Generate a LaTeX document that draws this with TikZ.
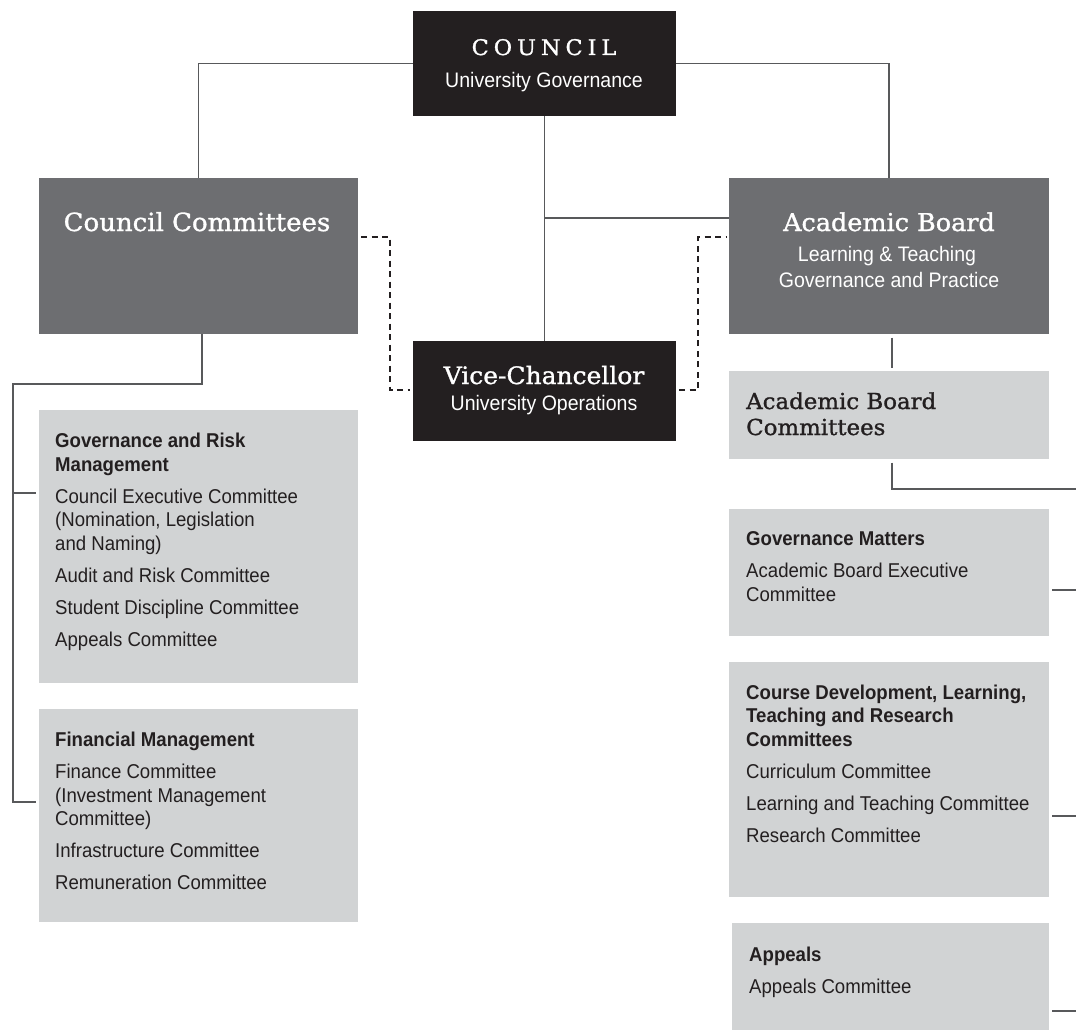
\documentclass[tikz,border=0pt]{standalone}
\usepackage{fontspec}
\setmainfont{DejaVu Serif}
\newfontfamily\slabfont[FakeBold=1.2, FakeStretch=1.04]{DejaVu Serif}
\newfontfamily\bodyfont[FakeStretch=0.93]{Liberation Sans}
\usetikzlibrary{calc}
\definecolor{boxdark}{HTML}{231F20}
\definecolor{boxmid}{HTML}{6D6E71}
\definecolor{boxlight}{HTML}{D1D3D4}
\definecolor{linegray}{HTML}{58595B}
\newcommand{\bodysize}{\bodyfont\fontsize{20}{23.5}\selectfont}
\newcommand{\subsize}{\bodyfont\fontsize{21}{24}\selectfont}
\newcommand{\itemgap}{\vskip8.5pt}
\newcommand{\listtext}[1]{\vtop{\hsize=310pt\parindent=0pt\parskip=0pt\bodysize #1}}
\tikzset{
  panel/.style={rectangle, inner sep=0pt, outer sep=0pt, anchor=north west},
  darkpanel/.style={panel, fill=boxdark},
  midpanel/.style={panel, fill=boxmid},
  lightpanel/.style={panel, fill=boxlight},
  conn/.style={draw=linegray, line width=1.1pt},
  dashconn/.style={draw=boxdark, line width=1.1pt, dash pattern=on 6pt off 4.5pt},
  title/.style={inner sep=0pt, anchor=base, text=white},
  listnode/.style={inner sep=0pt, anchor=base west, text=boxdark},
}
\begin{document}
\begin{tikzpicture}[x=1pt, y=-1pt]
\useasboundingbox (0,0) rectangle (1076,1033);

% boxes
\node[darkpanel, minimum width=263pt, minimum height=105pt] (council) at (413,11) {};
\node[midpanel, minimum width=319pt, minimum height=156pt] (cc) at (39,178) {};
\node[midpanel, minimum width=320pt, minimum height=156pt] (ab) at (729,178) {};
\node[darkpanel, minimum width=263pt, minimum height=100pt] (vc) at (413,341) {};
\node[lightpanel, minimum width=320pt, minimum height=88pt] (abc) at (729,371) {};
\node[lightpanel, minimum width=319pt, minimum height=273pt] (gr) at (39,410) {};
\node[lightpanel, minimum width=319pt, minimum height=213pt] (fm) at (39,709) {};
\node[lightpanel, minimum width=320pt, minimum height=127pt] (gm) at (729,509) {};
\node[lightpanel, minimum width=320pt, minimum height=235pt] (cd) at (729,662) {};
\node[lightpanel, minimum width=317pt, minimum height=107pt] (ap) at (732,923) {};

% titles
\node[title, font=\slabfont\fontsize{21.5}{26}\selectfont] (councilt) at (544,55) {C\kern5pt O\kern5pt U\kern5pt N\kern5pt C\kern5pt I\kern5pt L};
\node[title, font=\subsize] (councils) at (544,88) {University Governance};
\node[title, font=\slabfont\fontsize{25}{28}\selectfont] (cct) at (197,231) {Council Committees};
\node[title, font=\slabfont\fontsize{24.5}{28}\selectfont] (abt) at (889,231) {Academic Board};
\node[title, font=\subsize] (abs1) at (887,261) {Learning \& Teaching};
\node[title, font=\subsize] (abs2) at (889,287) {Governance and Practice};
\node[title, font=\slabfont\fontsize{24}{28}\selectfont] (vct) at (544,384) {Vice-Chancellor};
\node[title, font=\subsize] (vcs) at (544,410) {University Operations};
\node[inner sep=0pt, anchor=base west, text=boxdark, font=\slabfont\fontsize{22}{26}\selectfont] (abct1) at (746,409) {Academic Board};
\node[inner sep=0pt, anchor=base west, text=boxdark, font=\slabfont\fontsize{22}{26}\selectfont] (abct2) at (746,435) {Committees};

% lists
\node[listnode] (grt) at (55,447.7) {\listtext{%
\textbf{Governance and Risk}\par
\textbf{Management}\par\itemgap
Council Executive Committee\par
(Nomination, Legislation\par
and Naming)\par\itemgap
Audit and Risk Committee\par\itemgap
Student Discipline Committee\par\itemgap
Appeals Committee\par}};

\node[listnode] (fmt) at (55,746.7) {\listtext{%
\textbf{Financial Management}\par\itemgap
Finance Committee\par
(Investment Management\par
Committee)\par\itemgap
Infrastructure Committee\par\itemgap
Remuneration Committee\par}};

\node[listnode] (gmt) at (746,545.7) {\listtext{%
\textbf{Governance Matters}\par\itemgap
Academic Board Executive\par
Committee\par}};

\node[listnode] (cdt) at (746,699.3) {\listtext{%
\textbf{Course Development, Learning,}\par
\textbf{Teaching and Research}\par
\textbf{Committees}\par\itemgap
Curriculum Committee\par\itemgap
Learning and Teaching Committee\par\itemgap
Research Committee\par}};

\node[listnode] (apt) at (749,961.7) {\listtext{%
\textbf{Appeals}\par\itemgap
Appeals Committee\par}};

% connectors
\draw[conn] (council.west) -| (cc.north);
\draw[conn] (council.east) -| (ab.north);
\draw[conn] (council.south) -- (vc.north);
\coordinate (jn) at (544.5,218);
\draw[conn] (jn) -- (jn -| ab.west);

\draw[dashconn] ([xshift=3pt]cc.east |- 0,237) -| (390,390) -- ([xshift=-3pt]vc.west |- 0,390);
\draw[dashconn] ([xshift=3pt]vc.east |- 0,390) -| (698,237) -- ([xshift=-2pt]ab.west |- 0,237);

\draw[conn] ([xshift=3pt,yshift=-3.5pt]ab.south) -- ([xshift=3pt,yshift=3pt]abc.north);
\coordinate (rtop) at (1076,489);
\draw[conn] ([xshift=3pt,yshift=-3.5pt]abc.south) |- (rtop);
\coordinate (r1) at (1076,590);
\coordinate (r2) at (1076,816);
\coordinate (r3) at (1076,1011);
\draw[conn] ([xshift=3pt]gm.east |- r1) -- (r1);
\draw[conn] ([xshift=3pt]cd.east |- r2) -- (r2);
\draw[conn] ([xshift=3pt]ap.east |- r3) -- (r3);

\coordinate (lc) at (13,384);
\draw[conn] ([xshift=3.5pt]cc.south) |- (lc) |- ([xshift=-3pt]fm.west |- 0,802);
\draw[conn] (13,493) -- ([xshift=-3pt]gr.west |- 0,493);
\end{tikzpicture}
\end{document}
